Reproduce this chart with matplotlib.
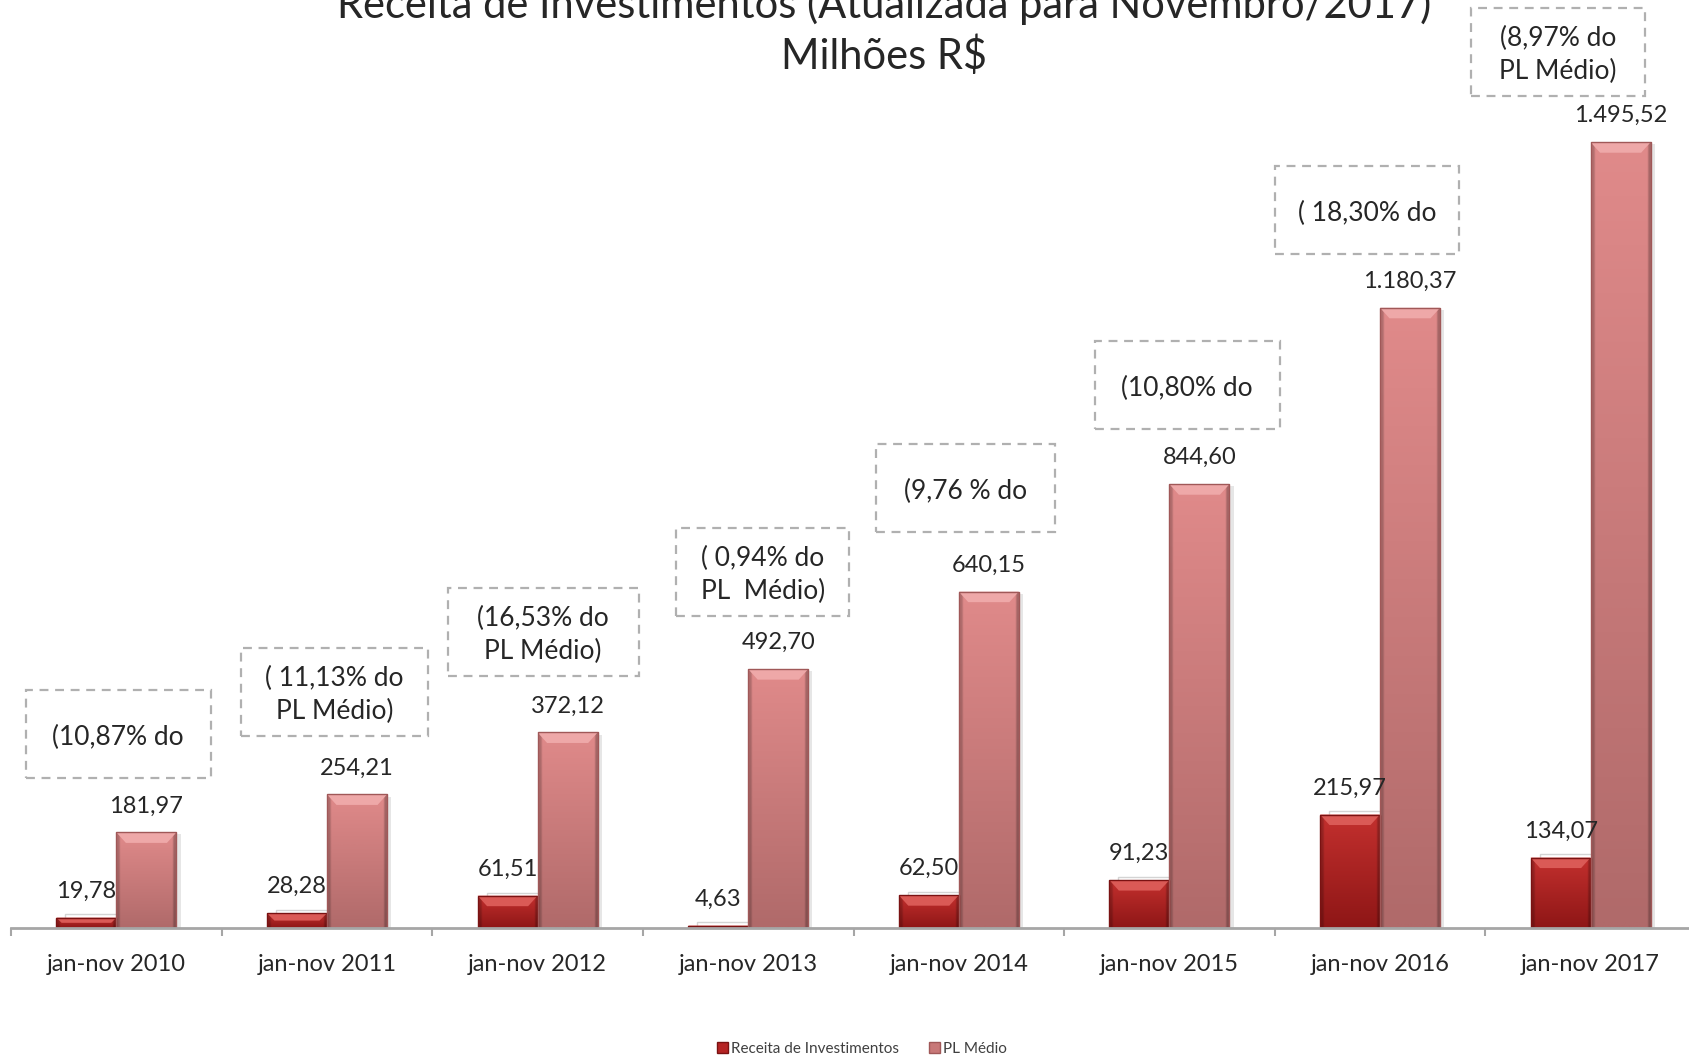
import numpy as np
import matplotlib
matplotlib.use("Agg")
import matplotlib.pyplot as plt
from matplotlib.patches import Rectangle, Polygon, Patch

plt.rcParams["font.family"] = ["Lato", "DejaVu Sans"]

# --- data ---
periods = ["jan-nov 2010", "jan-nov 2011", "jan-nov 2012", "jan-nov 2013",
           "jan-nov 2014", "jan-nov 2015", "jan-nov 2016", "jan-nov 2017"]
receita = [19.78, 28.28, 61.51, 4.63, 62.50, 91.23, 215.97, 134.07]
pl_medio = [181.97, 254.21, 372.12, 492.70, 640.15, 844.60, 1180.37, 1495.52]
receita_labels = ["19,78", "28,28", "61,51", "4,63", "62,50", "91,23", "215,97", "134,07"]
pl_labels = ["181,97", "254,21", "372,12", "492,70", "640,15", "844,60", "1.180,37", "1.495,52"]
box_texts = ["(10,87% do", "( 11,13% do\nPL Médio)", "(16,53% do\nPL Médio)",
             "( 0,94% do\nPL  Médio)", "(9,76 % do", "(10,80% do", "( 18,30% do",
             "(8,97% do\nPL Médio)"]

# --- layout for the dashed boxes (offsets relative to each PL bar) ---
box_dx = [0.008, 0.035, 0.026, 0.07, 0.034, 0.084, -0.062, -0.155]
box_w = [0.878, 0.888, 0.907, 0.821, 0.85, 0.878, 0.874, 0.826]
box_gap = [103, 111, 107, 101, 113, 105, 102, 88]
box_h = 168

W = 0.285
TXT = "#262626"


def gradient_bar(ax, rect, top_col, bot_col, bevel_col, edge_col):
    x0, w, h = rect.get_x(), rect.get_width(), rect.get_height()
    if h <= 0:
        return
    grad = np.linspace(0, 1, 64)[:, None, None]
    c0 = np.array(matplotlib.colors.to_rgb(top_col))
    c1 = np.array(matplotlib.colors.to_rgb(bot_col))
    img = c0 * (1 - grad) + c1 * grad
    # darker left/right edges
    side = np.ones((1, 32, 1))
    side[0, :2] = 0.8
    side[0, -2:] = 0.75
    img = img * side
    im = ax.imshow(img, extent=[x0, x0 + w, 0, h], aspect="auto", origin="upper",
                   zorder=3, interpolation="bilinear")
    im.set_clip_path(rect)
    # bevel on top
    bh = min(20, h * 0.5)
    bd = min(0.045, bh * 0.0025)
    bev = Polygon([[x0, h], [x0 + w, h], [x0 + w - bd, h - bh], [x0 + bd, h - bh]],
                  closed=True, facecolor=bevel_col, edgecolor="none", zorder=4)
    ax.add_patch(bev)
    ax.add_patch(Rectangle((x0, 0), w, h, fill=False, edgecolor=edge_col,
                           linewidth=1, zorder=5))


fig = plt.figure(figsize=(16.9, 10.6), dpi=100)
ax = fig.add_axes([0.00657, 0.12453, 0.99692, 0.7931])

x = np.arange(len(periods))
bars_r = ax.bar(x - W / 2, receita, W, color="none", zorder=3)
bars_p = ax.bar(x + W / 2, pl_medio, W, color="none", zorder=3)

for rect in bars_r:
    # faint depth outline behind the red bar
    ax.add_patch(Rectangle((rect.get_x() + 0.043, 0), rect.get_width(),
                           rect.get_height() + 6, fill=False, edgecolor="#d4d4d4",
                           linewidth=1, zorder=2))
    gradient_bar(ax, rect, "#c3302e", "#8e1616", "#da5a56", "#7a1212")
for rect in bars_p:
    ax.add_patch(Rectangle((rect.get_x() + 0.02, 0), rect.get_width(),
                           rect.get_height() - 4, facecolor="#e6e6e6", edgecolor="none",
                           zorder=2))
    gradient_bar(ax, rect, "#e08a8a", "#b06a6a", "#eea8a8", "#a05858")

for i in range(len(periods)):
    ax.annotate(receita_labels[i], (x[i] - W / 2, receita[i]), xytext=(0, 19),
                textcoords="offset points", ha="center", va="center",
                fontsize=17, color=TXT, zorder=6)
    ax.annotate(pl_labels[i], (x[i] + W / 2, pl_medio[i]), xytext=(0, 19),
                textcoords="offset points", ha="center", va="center",
                fontsize=17, color=TXT, zorder=6)
    cx = x[i] + box_dx[i]
    by = pl_medio[i] + box_gap[i]
    ax.add_patch(Rectangle((cx - box_w[i] / 2, by), box_w[i], box_h, fill=False,
                           edgecolor="#b0b0b0", linewidth=1.6, linestyle=(0, (4, 3)),
                           clip_on=False, zorder=6))
    ax.text(cx, by + box_h / 2 - 6, box_texts[i], ha="center", va="center",
            fontsize=19, color=TXT, linespacing=1.4, clip_on=False, zorder=6)

ax.set_xlim(-0.5, len(periods) - 0.5)
ax.set_ylim(0, 1600)
ax.set_xticks(x)
ax.set_xticklabels(periods, fontsize=17, color=TXT)
ax.set_xticks(np.arange(-0.5, len(periods)), minor=True)
ax.tick_params(axis="x", which="major", length=0, pad=18.5)
ax.tick_params(axis="x", which="minor", length=6, width=1.5, color="#a6a6a6")
ax.set_yticks([])
for s in ["top", "right", "left"]:
    ax.spines[s].set_visible(False)
ax.spines["bottom"].set_color("#a6a6a6")
ax.spines["bottom"].set_linewidth(2)
ax.spines["bottom"].set_zorder(7)
ax.set_facecolor("none")

fig.text(884 / 1690, 1 - 5 / 1060, "Receita de Investimentos (Atualizada para Novembro/2017)",
         ha="center", va="center", fontsize=30, color="#262626")
fig.text(884 / 1690, 1 - 56 / 1060, "Milhões R$", ha="center", va="center",
         fontsize=30, color="#262626")

handles = [Patch(facecolor="#b52424", edgecolor="#7a1212"),
           Patch(facecolor="#c87878", edgecolor="#a05858")]
fig.legend(handles, ["Receita de Investimentos", "PL Médio"], loc="center",
           bbox_to_anchor=(862 / 1690, 1 - 1049 / 1060), ncol=2, frameon=False,
           fontsize=11, handlelength=0.7, handleheight=0.7, handletextpad=0.2,
           columnspacing=2.0, labelcolor="#404040")

fig.savefig("out.png", dpi=100)
